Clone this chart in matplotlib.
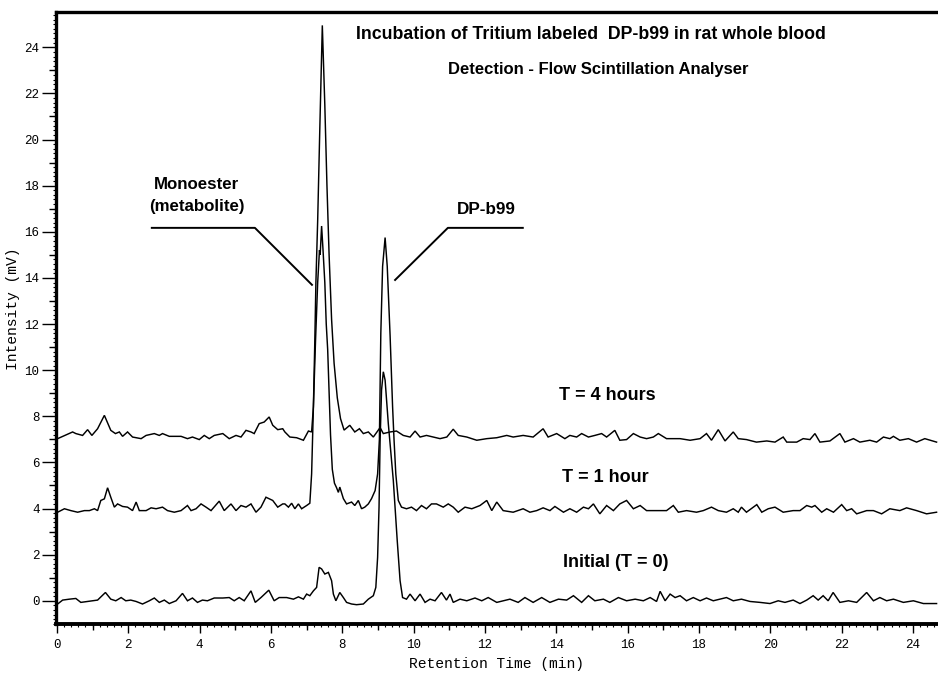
import matplotlib
matplotlib.use("Agg")
import matplotlib.pyplot as plt
from matplotlib.ticker import MultipleLocator

# Radio-chromatogram traces: retention time (min) and detector signal (mV)
time_4h = [0.02, 0.44, 0.53, 0.72, 0.86, 0.98, 1.14, 1.33, 1.51, 1.64, 1.75, 1.84, 1.98,
           2.12, 2.36, 2.50, 2.73, 2.87, 2.96, 3.15, 3.48, 3.66, 3.80, 3.99, 4.13, 4.27,
           4.41, 4.65, 4.83, 5.02, 5.16, 5.30, 5.44, 5.53, 5.67, 5.81, 5.95, 6.05, 6.19,
           6.33, 6.39, 6.53, 6.72, 6.91, 7.05, 7.14, 7.19, 7.23, 7.26, 7.31, 7.37, 7.44,
           7.51, 7.57, 7.63, 7.70, 7.77, 7.86, 7.95, 8.05, 8.21, 8.35, 8.48, 8.59, 8.73,
           8.87, 9.06, 9.15, 9.34, 9.52, 9.71, 9.90, 10.04, 10.18, 10.36, 10.55, 10.74,
           10.93, 11.11, 11.25, 11.49, 11.77, 12.05, 12.33, 12.61, 12.79, 13.07, 13.35,
           13.63, 13.77, 14.01, 14.24, 14.38, 14.57, 14.71, 14.90, 15.08, 15.27, 15.41,
           15.64, 15.78, 15.97, 16.16, 16.35, 16.53, 16.72, 16.86, 17.09, 17.47, 17.75,
           18.03, 18.21, 18.35, 18.54, 18.73, 18.96, 19.10, 19.33, 19.61, 19.90, 20.13,
           20.36, 20.46, 20.74, 20.92, 21.11, 21.25, 21.39, 21.67, 21.95, 22.09, 22.33,
           22.51, 22.79, 22.98, 23.17, 23.35, 23.45, 23.63, 23.87, 24.10, 24.33, 24.66]
signal_4h = [7.03, 7.32, 7.25, 7.17, 7.42, 7.17, 7.46, 8.04, 7.39, 7.25, 7.32, 7.13, 7.32,
             7.10, 7.03, 7.17, 7.25, 7.17, 7.25, 7.13, 7.13, 7.03, 7.10, 6.99, 7.17, 7.03,
             7.17, 7.25, 7.03, 7.17, 7.10, 7.39, 7.32, 7.25, 7.68, 7.75, 7.97, 7.61, 7.42,
             7.46, 7.32, 7.10, 7.07, 6.96, 7.36, 7.32, 8.41, 11.3, 13.8, 16.5, 20.5, 24.95,
             21.5, 18.0, 15.0, 12.2, 10.3, 8.8, 7.9, 7.4, 7.61, 7.32, 7.46, 7.25, 7.32,
             7.10, 7.51, 7.25, 7.32, 7.36, 7.17, 7.10, 7.36, 7.10, 7.17, 7.10, 7.03,
             7.10, 7.44, 7.17, 7.10, 6.96, 7.03, 7.07, 7.17, 7.10, 7.17, 7.10,
             7.46, 7.10, 7.25, 7.03, 7.17, 7.10, 7.25, 7.10, 7.17, 7.25, 7.10,
             7.39, 6.96, 6.99, 7.25, 7.10, 7.03, 7.10, 7.25, 7.03, 7.03, 6.96,
             7.03, 7.25, 6.96, 7.42, 6.93, 7.32, 7.03, 6.99, 6.88, 6.93, 6.88,
             7.10, 6.88, 6.88, 7.03, 6.99, 7.25, 6.88, 6.93, 7.25, 6.88, 7.03,
             6.88, 6.96, 6.88, 7.10, 7.03, 7.13, 6.96, 7.03, 6.88, 7.03, 6.88]

time_1h = [0.02, 0.21, 0.39, 0.58, 0.77, 0.91, 1.05, 1.14, 1.23, 1.33, 1.42, 1.51, 1.61,
           1.70, 1.84, 1.98, 2.12, 2.22, 2.31, 2.50, 2.64, 2.78, 2.96, 3.10, 3.29, 3.48,
           3.66, 3.76, 3.90, 4.04, 4.18, 4.32, 4.55, 4.69, 4.88, 5.02, 5.16, 5.30, 5.44,
           5.58, 5.72, 5.86, 6.05, 6.19, 6.33, 6.39, 6.49, 6.58, 6.67, 6.77, 6.86, 7.00,
           7.09, 7.14, 7.19, 7.25, 7.31, 7.36, 7.38, 7.42, 7.46, 7.51, 7.55, 7.59, 7.63,
           7.67, 7.72, 7.78, 7.84, 7.89, 7.93, 8.03, 8.12, 8.26, 8.35, 8.45, 8.54, 8.63,
           8.73, 8.82, 8.92, 8.99, 9.04, 9.08, 9.13, 9.20, 9.26, 9.34, 9.41, 9.45, 9.50,
           9.57, 9.66, 9.80, 9.94, 10.08, 10.22, 10.36, 10.50, 10.64, 10.83, 10.97, 11.11,
           11.25, 11.44, 11.63, 11.86, 12.05, 12.19, 12.33, 12.51, 12.79, 13.07, 13.26,
           13.45, 13.63, 13.82, 13.96, 14.20, 14.38, 14.57, 14.76, 14.90, 15.04, 15.22,
           15.41, 15.60, 15.78, 15.97, 16.16, 16.35, 16.53, 16.81, 17.09, 17.28, 17.42,
           17.65, 17.93, 18.12, 18.35, 18.54, 18.77, 18.96, 19.10, 19.19, 19.33, 19.62,
           19.76, 19.94, 20.13, 20.36, 20.64, 20.83, 21.02, 21.16, 21.25, 21.44, 21.58,
           21.77, 22.00, 22.14, 22.28, 22.42, 22.70, 22.89, 23.12, 23.35, 23.63, 23.82,
           24.10, 24.38, 24.66]
signal_1h = [3.84, 3.99, 3.91, 3.84, 3.91, 3.91, 3.99, 3.91, 4.35, 4.42, 4.90, 4.49, 4.06,
             4.20, 4.09, 4.06, 3.91, 4.28, 3.91, 3.91, 4.03, 3.99, 4.06, 3.91, 3.84, 3.91,
             4.13, 3.91, 3.99, 4.20, 4.06, 3.91, 4.32, 3.91, 4.20, 3.91, 4.13, 4.06, 4.20,
             3.84, 4.06, 4.49, 4.35, 4.06, 4.20, 4.20, 4.06, 4.23, 3.99, 4.20, 3.99, 4.13,
             4.23, 5.5, 8.4, 11.3, 13.8, 15.2, 15.0, 16.25, 15.2, 13.8, 12.0, 10.9, 9.0,
             7.2, 5.7, 5.1, 4.9, 4.70, 4.93, 4.43, 4.20, 4.28, 4.13, 4.35, 3.99, 4.06,
             4.20, 4.43, 4.78, 5.5, 7.0, 11.6, 14.5, 15.75, 14.5, 11.5, 8.41, 7.0, 5.5,
             4.35, 4.06, 3.99, 4.06, 3.91, 4.13, 3.99, 4.20, 4.20, 4.06, 4.20, 4.06,
             3.84, 4.06, 3.99, 4.13, 4.35, 3.91, 4.28, 3.91, 3.84, 3.99, 3.84,
             3.91, 4.03, 3.91, 4.09, 3.84, 3.99, 3.84, 4.06, 3.99, 4.20, 3.77,
             4.13, 3.91, 4.20, 4.35, 3.99, 4.13, 3.91, 3.91, 3.91, 4.13, 3.84,
             3.91, 3.84, 3.91, 4.06, 3.91, 3.84, 3.99, 3.84, 4.06, 3.84, 4.17,
             3.84, 3.99, 4.06, 3.84, 3.91, 3.91, 4.13, 4.06, 4.13, 3.84, 3.99,
             3.84, 4.17, 3.91, 3.99, 3.77, 3.91, 3.91, 3.77, 3.99, 3.91, 4.03,
             3.91, 3.77, 3.84]

time_initial = [0.02, 0.16, 0.35, 0.53, 0.67, 0.81, 1.00, 1.14, 1.36, 1.51, 1.65, 1.80,
                1.93, 2.07, 2.22, 2.40, 2.59, 2.73, 2.87, 3.01, 3.15, 3.34, 3.52, 3.66,
                3.80, 3.94, 4.08, 4.22, 4.41, 4.65, 4.83, 4.97, 5.11, 5.25, 5.44, 5.56,
                5.72, 5.94, 6.09, 6.23, 6.44, 6.63, 6.77, 6.91, 7.00, 7.09, 7.19, 7.28,
                7.35, 7.42, 7.51, 7.61, 7.70, 7.75, 7.82, 7.93, 8.03, 8.12, 8.26, 8.40,
                8.59, 8.73, 8.87, 8.94, 8.99, 9.03, 9.06, 9.10, 9.15, 9.20, 9.29, 9.43,
                9.54, 9.62, 9.69, 9.80, 9.90, 10.04, 10.18, 10.32, 10.46, 10.60, 10.78,
                10.92, 11.02, 11.11, 11.30, 11.49, 11.72, 11.91, 12.09, 12.33, 12.51,
                12.70, 12.93, 13.12, 13.35, 13.59, 13.82, 14.06, 14.29, 14.48, 14.71,
                14.90, 15.08, 15.32, 15.50, 15.74, 15.97, 16.21, 16.44, 16.63, 16.81,
                16.91, 17.05, 17.19, 17.33, 17.47, 17.65, 17.84, 18.03, 18.21, 18.40,
                18.59, 18.77, 18.96, 19.19, 19.43, 19.71, 19.99, 20.22, 20.41, 20.64,
                20.83, 21.02, 21.20, 21.34, 21.48, 21.62, 21.76, 21.95, 22.19, 22.42,
                22.70, 22.89, 23.07, 23.26, 23.45, 23.73, 24.01, 24.29, 24.66]
signal_initial = [-0.14, 0.03, 0.07, 0.10, -0.07, -0.04, 0.00, 0.03, 0.36, 0.07, 0.00, 0.14,
                  0.00, 0.03, -0.03, -0.14, 0.00, 0.12, -0.07, 0.03, -0.12, 0.00, 0.32, 0.00,
                  0.12, -0.07, 0.03, 0.00, 0.12, 0.12, 0.14, 0.00, 0.14, 0.00, 0.43, -0.07,
                  0.14, 0.46, 0.00, 0.14, 0.14, 0.07, 0.17, 0.07, 0.29, 0.22, 0.43, 0.58,
                  1.45, 1.38, 1.16, 1.23, 0.87, 0.29, 0.00, 0.36, 0.14, -0.07, -0.14, -0.17,
                  -0.14, 0.07, 0.22, 0.58, 1.88, 4.06, 6.96, 9.13, 9.93, 9.57, 7.68, 5.22,
                  2.61, 0.87, 0.14, 0.07, 0.29, 0.00, 0.29, -0.07, 0.07, 0.00, 0.36,
                  0.03, 0.29, -0.07, 0.07, 0.00, 0.12, 0.00, 0.14, -0.07, 0.00,
                  0.07, -0.07, 0.14, -0.07, 0.14, -0.07, 0.07, 0.03, 0.22, -0.07,
                  0.22, 0.00, 0.07, -0.07, 0.14, 0.00, 0.07, 0.00, 0.14, -0.03,
                  0.41, 0.00, 0.29, 0.14, 0.22, 0.00, 0.14, 0.00, 0.12, 0.00,
                  0.07, 0.14, 0.00, 0.07, -0.03, -0.07, -0.12, 0.00, -0.07, 0.03,
                  -0.12, 0.03, 0.22, 0.03, 0.22, 0.00, 0.36, -0.07, 0.00, -0.07,
                  0.36, 0.00, 0.14, 0.00, 0.07, -0.07, 0.00, -0.12, -0.12]

x_ticks = list(range(0, 25, 2))
y_ticks = list(range(0, 25, 2))

title_lines = ["Incubation of Tritium labeled  DP-b99 in rat whole blood",
               "Detection - Flow Scintillation Analyser"]
trace_labels = ["T = 4 hours", "T = 1 hour", "Initial (T = 0)"]
peak_labels = ["Monoester", "(metabolite)", "DP-b99"]

# leader lines for the peak labels (time, mV)
monoester_leader = ([2.66, 5.55, 7.15], [16.17, 16.17, 13.70])
dpb99_leader = ([13.06, 10.96, 9.48], [16.17, 16.17, 13.91])

W, H = 938, 678
fig = plt.figure(figsize=(W / 100, H / 100), dpi=100)
left_px, right_px, top_px, bottom_px = 55.5, 938, 12, 624.3
ax = fig.add_axes([left_px / W, 1 - bottom_px / H,
                   (right_px - left_px) / W, (bottom_px - top_px) / H])

for t, s in ((time_initial, signal_initial), (time_1h, signal_1h), (time_4h, signal_4h)):
    ax.plot(t, s, color="black", lw=1.05, solid_joinstyle="miter")

ax.set_xlim(-0.04, 24.70)
ax.set_ylim(-1.02, 25.53)

for side in ("left", "top"):
    ax.spines[side].set_linewidth(2.4)
ax.spines["bottom"].set_linewidth(2.8)
ax.spines["right"].set_visible(False)

mono = "Liberation Mono"
ax.set_xticks(x_ticks)
ax.set_yticks(y_ticks)
ax.xaxis.set_minor_locator(MultipleLocator(0.2))
ax.yaxis.set_minor_locator(MultipleLocator(0.2))
ax.tick_params(axis="x", which="major", direction="out", length=6.5, width=1.0, pad=4)
ax.tick_params(axis="y", which="major", direction="out", length=10, width=1.0, pad=1.5)
ax.tick_params(axis="both", which="minor", direction="out", length=2.0, width=0.8)
ax.tick_params(top=False, right=False)
for lab in ax.get_xticklabels() + ax.get_yticklabels():
    lab.set_fontfamily(mono)
    lab.set_fontsize(9)

# mid-interval ticks at odd values
secx = ax.secondary_xaxis("bottom")
secx.set_xticks(list(range(1, 25, 2)))
secx.tick_params(length=4, width=1.0, labelbottom=False)
secx.spines["bottom"].set_visible(False)
secy = ax.secondary_yaxis("left")
secy.set_yticks(list(range(1, 25, 2)))
secy.tick_params(length=5, width=1.0, labelleft=False)
secy.spines["left"].set_visible(False)

fig.text(496 / W, 1 - 664 / H, "Retention Time (min)", family=mono, fontsize=10.5,
         ha="center", va="center")
fig.text(13 / W, 1 - 309 / H, "Intensity (mV)", family=mono, fontsize=10.5,
         rotation=90, ha="center", va="center")

bold = dict(family="Liberation Sans", fontweight="bold", ha="center", va="center",
            color="black")
ax.text(14.98, 24.57, title_lines[0], fontsize=12.8, **bold)
ax.text(15.17, 23.04, title_lines[1], fontsize=12, **bold)
ax.text(15.42, 8.90, trace_labels[0], fontsize=13, **bold)
ax.text(15.36, 5.35, trace_labels[1], fontsize=13, **bold)
ax.text(15.67, 1.65, trace_labels[2], fontsize=13, **bold)
ax.text(3.92, 18.04, peak_labels[0], fontsize=12.2, **bold)
ax.text(3.92, 17.09, peak_labels[1], fontsize=12.2, **bold)
ax.text(12.03, 16.96, peak_labels[2], fontsize=12.3, **bold)

ax.plot(*monoester_leader, color="black", lw=1.4)
ax.plot(*dpb99_leader, color="black", lw=1.4)

fig.savefig("out.png", dpi=100, facecolor="white")
